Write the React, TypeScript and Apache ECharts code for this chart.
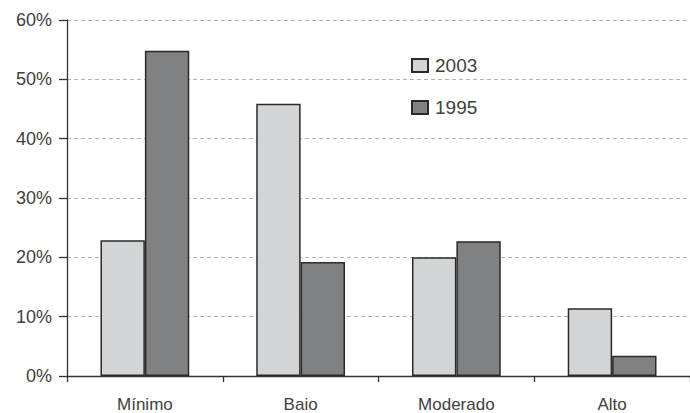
import React, { useEffect, useRef } from "react";
import * as echarts from "echarts";

const categories = ["Mínimo", "Baio", "Moderado", "Alto"];
const series2003 = [22.9, 45.9, 20.0, 11.4];
const series1995 = [54.8, 19.2, 22.7, 3.4];
const yTicks = [0, 10, 20, 30, 40, 50, 60];

export default function App() {
  const ref = useRef<HTMLDivElement>(null);
  useEffect(() => {
    if (!ref.current) return;
    const chart = echarts.init(ref.current, null, { renderer: "svg" });
    const font = "Liberation Sans, Arial, sans-serif";
    chart.setOption({
      animation: false,
      backgroundColor: "#ffffff",
      textStyle: { fontFamily: font },
      grid: { left: 67, top: 20, width: 628, height: 357, containLabel: false },
      legend: {
        orient: "vertical",
        left: 406,
        top: 51,
        itemWidth: 16,
        itemHeight: 13,
        itemGap: 23,
        icon: "rect",
        textStyle: { fontSize: 19, color: "#404040", fontFamily: font, padding: [0, 0, 0, 2] },
        data: ["2003", "1995"],
      },
      xAxis: {
        type: "category",
        data: categories,
        axisLine: { lineStyle: { color: "#333", width: 1.3 } },
        axisTick: { show: true, length: 6, lineStyle: { color: "#333", width: 1.3 } },
        axisLabel: { fontSize: 17, color: "#404040", margin: 20, fontFamily: font },
      },
      yAxis: {
        type: "value",
        min: 0,
        max: 60,
        interval: 10,
        axisLine: { show: true, lineStyle: { color: "#333", width: 1.3 } },
        axisTick: { show: true, length: 8, lineStyle: { color: "#333", width: 1.3 } },
        axisLabel: {
          fontSize: 18,
          color: "#404040",
          margin: 15,
          fontFamily: font,
          formatter: (v: number) => (yTicks.includes(v) ? v + "%" : ""),
        },
        splitLine: { show: true, lineStyle: { color: "#b3b3b3", type: [4, 3], width: 1 } },
      },
      series: [
        {
          name: "2003",
          type: "bar",
          data: series2003,
          barGap: "0%",
          barCategoryGap: "43%",
          itemStyle: { color: "#d3d4d6", borderColor: "#2a2a2a", borderWidth: 1.5 },
        },
        {
          name: "1995",
          type: "bar",
          data: series1995,
          itemStyle: { color: "#808183", borderColor: "#2a2a2a", borderWidth: 1.5 },
        },
      ],
    });
    return () => chart.dispose();
  }, []);
  return (
    <div
      ref={ref}
      style={{ position: "fixed", left: 0, top: 0, width: 690, height: 413, background: "#fff" }}
    />
  );
}
